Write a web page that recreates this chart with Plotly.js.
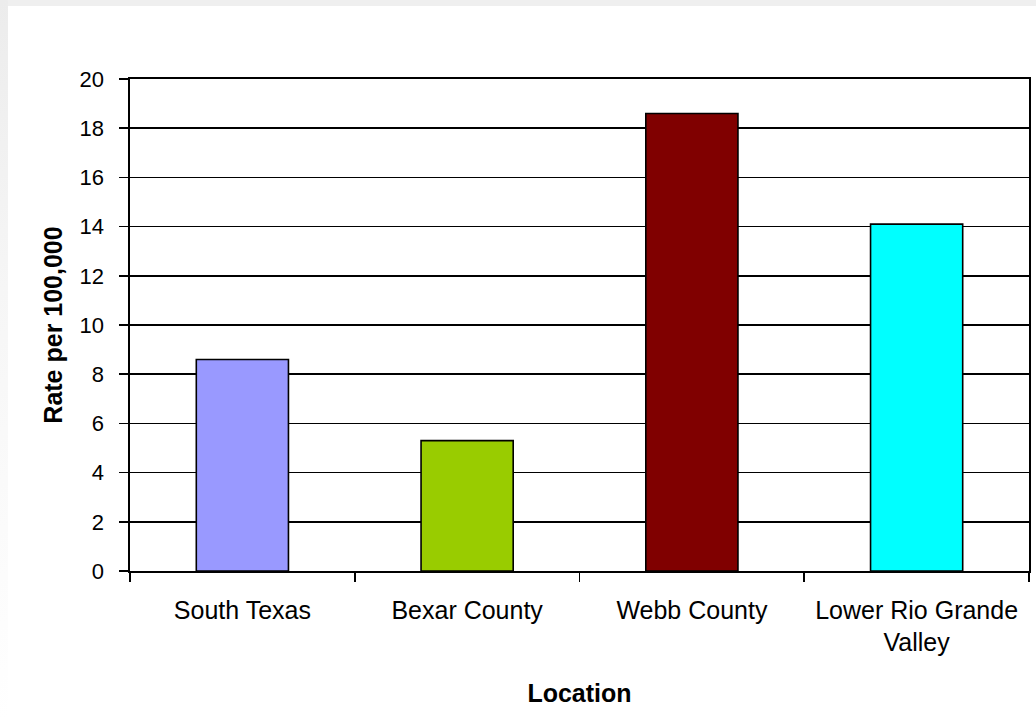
<!DOCTYPE html>
<html>
<head>
<meta charset="utf-8">
<script src="https://cdn.plot.ly/plotly-3.0.1.min.js"></script>
<style>
  html, body { margin: 0; padding: 0; width: 1036px; height: 721px; overflow: hidden; background: #ffffff; }
  #topband { position: absolute; left: 0; top: 0; width: 1036px; height: 6px; background: #efefef; }
  #leftband { position: absolute; left: 0; top: 0; width: 8px; height: 721px;
              background: linear-gradient(to bottom, #ececec 0%, #f6f6f6 40%, #ffffff 100%); }
  #chart { position: absolute; left: 8px; top: 6px; width: 1028px; height: 715px; }
</style>
</head>
<body>
<div id="topband"></div>
<div id="leftband"></div>
<div id="chart"></div>
<script>
// Rate per 100,000 by location
const locations = ["South Texas", "Bexar County", "Webb County", "Lower Rio Grande<br>Valley"];
const rates = [8.6, 5.3, 18.6, 14.1];
const barColors = ["#9999ff", "#99cc00", "#800000", "#00ffff"];
const yTicks = [0, 2, 4, 6, 8, 10, 12, 14, 16, 18, 20];

const trace = {
  type: "bar",
  x: locations,
  y: rates,
  width: 0.41,
  marker: { color: barColors, line: { color: "#000000", width: 1.6 } },
  hoverinfo: "x+y"
};

const layout = {
  width: 1028,
  height: 715,
  margin: { l: 122, r: 7, t: 73, b: 150 },
  paper_bgcolor: "#ffffff",
  plot_bgcolor: "#ffffff",
  showlegend: false,
  font: { family: "Liberation Sans, Arial, sans-serif", color: "#000000" },
  xaxis: {
    type: "category",
    tickson: "boundaries",
    ticks: "outside",
    ticklen: 9,
    tickwidth: 1.6,
    tickcolor: "#000000",
    ticklabelstandoff: 16,
    showline: true,
    linecolor: "#000000",
    linewidth: 1.6,
    mirror: true,
    showgrid: false,
    tickfont: { size: 25 },
    title: { text: "<b>Location</b>", font: { size: 25 }, standoff: 29 }
  },
  yaxis: {
    range: [0, 20],
    tickvals: yTicks,
    ticks: "outside",
    ticklen: 9,
    tickwidth: 1.6,
    tickcolor: "#000000",
    ticklabelstandoff: 11,
    showline: true,
    linecolor: "#000000",
    linewidth: 1.6,
    mirror: true,
    showgrid: true,
    gridcolor: "#000000",
    gridwidth: 1.6,
    zeroline: false,
    tickfont: { size: 22 },
    title: { text: "<b>Rate per 100,000</b>", font: { size: 25 }, standoff: 10 }
  }
};

Plotly.newPlot("chart", [trace], layout, { displayModeBar: false, staticPlot: true });
</script>
</body>
</html>
